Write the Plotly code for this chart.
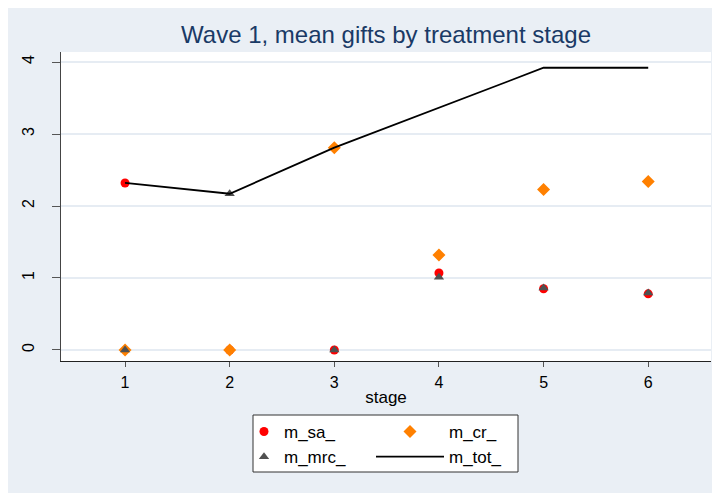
import plotly.graph_objects as go

stage = [1, 2, 3, 4, 5, 6]
m_sa = [2.32, 0, 0, 1.07, 0.85, 0.78]
m_cr = [0, 0, 2.81, 1.32, 2.23, 2.34]
m_mrc = [0, 2.17, 0, 1.01, 0.86, 0.79]
m_tot = [2.32, 2.17, 2.81, 3.37, 3.92, 3.92]
y_ticks = [0, 1, 2, 3, 4]
x_ticks = [1, 2, 3, 4, 5, 6]

BG = "#eaeff5"
GRID = "#e6ecf3"
FONT = "Liberation Sans, Arial, sans-serif"

fig = go.Figure()
fig.add_trace(go.Scatter(x=stage, y=m_sa, mode="markers", name="m_sa_",
                         marker=dict(symbol="circle", size=9, color="#ff0000"),
                         legend="legend"))
fig.add_trace(go.Scatter(x=stage, y=m_cr, mode="markers", name="m_cr_",
                         marker=dict(symbol="diamond", size=10, color="#ff8000"),
                         legend="legend2"))
fig.add_trace(go.Scatter(x=stage, y=m_mrc, mode="markers", name="m_mrc_",
                         marker=dict(symbol="triangle-up", size=9, color="#505050"),
                         legend="legend"))
fig.add_trace(go.Scatter(x=stage, y=m_tot, mode="lines", name="m_tot_",
                         line=dict(color="#000000", width=1.8),
                         legend="legend2"))

# page body margin offsets the figure by 8px
OFF = 8
W, H = 720 - OFF, 493 - OFF
L, R, T, B = 61 - OFF, 9, 52 - OFF, 132
pw, ph = W - L - R, H - T - B

def px(xp):
    return (xp - OFF - L) / pw

def py(yp):
    return 1 - (yp - OFF - T) / ph

fig.update_layout(
    width=W, height=H,
    margin=dict(l=L, r=R, t=T, b=B, pad=0),
    paper_bgcolor=BG, plot_bgcolor="#ffffff",
    font=dict(family=FONT, color="#000000", size=16),
    title=dict(text="Wave 1, mean gifts by treatment stage",
               x=0.5, xref="paper", xanchor="center",
               y=1 - (35 - OFF) / H, yref="container", yanchor="middle",
               font=dict(size=24, color="#1a3a66", family=FONT)),
    xaxis=dict(range=[0.388, 6.60], tickvals=x_ticks, ticktext=[str(v) for v in x_ticks],
               showgrid=False, zeroline=False, showline=True, linecolor="#222222",
               linewidth=1, ticks="outside", ticklen=5, tickcolor="#555555",
               tickfont=dict(size=16), ticklabelstandoff=2,
               title=dict(text="stage", font=dict(size=17), standoff=0)),
    yaxis=dict(range=[-0.153, 4.139], tickvals=y_ticks, ticktext=[str(v) for v in y_ticks],
               showgrid=True, gridcolor=GRID, gridwidth=1.5, zeroline=False,
               showline=True, linecolor="#444444", linewidth=1,
               ticks="outside", ticklen=8, tickcolor="#555555",
               tickangle=-90, tickfont=dict(size=16), ticklabelstandoff=12),
    legend=dict(x=px(244), xanchor="left", y=py(414), yanchor="top",
                orientation="v", bgcolor="rgba(0,0,0,0)", borderwidth=0,
                font=dict(size=17), itemwidth=30),
    legend2=dict(x=px(371), xanchor="left", y=py(414), yanchor="top",
                 orientation="v", bgcolor="rgba(0,0,0,0)", borderwidth=0,
                 font=dict(size=17), itemwidth=68),
    shapes=[dict(type="rect", xref="paper", yref="paper",
                 x0=px(253), x1=px(518), y0=py(472), y1=py(415),
                 fillcolor="#ffffff", line=dict(color="#333333", width=1),
                 layer="below")],
)

fig.write_html("out.html")
